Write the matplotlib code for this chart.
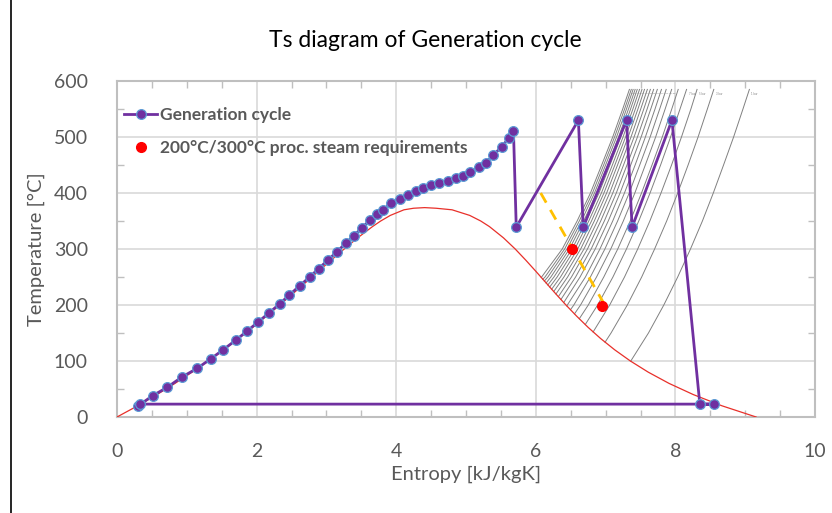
import matplotlib
matplotlib.use("Agg")
import matplotlib.pyplot as plt
from matplotlib.lines import Line2D
from matplotlib.ticker import MultipleLocator

plt.rcParams['font.family'] = ['Lato', 'DejaVu Sans']

# saturation dome (entropy kJ/kgK, temperature C)
domeS = [0.0, 0.296, 0.572, 0.831, 1.075, 1.307, 1.528, 1.739, 1.943, 2.139, 2.331, 2.518,
         2.702, 2.884, 3.068, 3.255, 3.449, 3.660, 3.778, 3.916, 4.111, 4.25, 4.407,
         4.57, 4.80, 5.053, 5.211, 5.336, 5.536, 5.705, 5.857, 6.002, 6.144, 6.286,
         6.432, 6.586, 6.750, 6.930, 7.130, 7.355, 7.612, 7.909, 8.257, 8.667, 9.156]
domeT = [0.01, 20, 40, 60, 80, 100, 120, 140, 160, 180, 200, 220,
         240, 260, 280, 300, 320, 340, 350, 360, 370, 372.8, 373.9,
         372.8, 370, 360, 350, 340, 320, 300, 280, 260, 240, 220,
         200, 180, 160, 140, 120, 100, 80, 60, 40, 20, 0.01]

# generation cycle
cycleS = [0.305, 0.51, 0.72, 0.925, 1.15, 1.345, 1.52, 1.70, 1.86, 2.025, 2.18, 2.33, 2.47,
          2.615, 2.76, 2.89, 3.02, 3.15, 3.275, 3.395, 3.51, 3.62, 3.72, 3.81, 3.93, 4.05,
          4.17, 4.28, 4.39, 4.50, 4.62, 4.74, 4.85, 4.95, 5.06, 5.18, 5.29, 5.39, 5.51,
          5.61, 5.68, 5.72, 6.61, 6.68, 7.30, 7.38, 7.95, 8.35, 8.55, 0.33]
cycleT = [20, 38, 53, 71, 87, 104, 120, 137, 153, 170, 186, 202, 218,
          234, 250, 265, 280, 295, 310, 324, 338, 351, 362, 370, 382, 389,
          397, 404, 409, 414, 418, 422, 426, 431, 437, 446, 454, 468, 482,
          498, 511, 339, 530, 339, 530, 339, 530, 23, 23, 23]

# process steam requirements
steamS = [6.52, 6.95]
steamT = [300, 198]
dashS = [6.07, 6.97]
dashT = [400, 204]

# isobars: pressure (bar) -> (T list, s list)
isobarP = [1, 3, 5, 7, 9, 11, 13, 15, 17, 19, 21, 23, 25, 27, 29, 31, 33, 35, 37, 39]
isobarT = {
    1: [99.6, 150, 200, 250, 300, 350, 400, 450, 500, 550, 585],
    3: [133.5, 150, 200, 250, 300, 350, 400, 450, 500, 550, 585],
    5: [151.8, 200, 250, 300, 350, 400, 450, 500, 550, 585],
    7: [165.0, 200, 250, 300, 350, 400, 450, 500, 550, 585],
    9: [175.4, 200, 250, 300, 350, 400, 450, 500, 550, 585],
    11: [184.1, 200, 250, 300, 350, 400, 450, 500, 550, 585],
    13: [191.6, 200, 250, 300, 350, 400, 450, 500, 550, 585],
    15: [198.3, 200, 250, 300, 350, 400, 450, 500, 550, 585],
    17: [204.3, 250, 300, 350, 400, 450, 500, 550, 585],
    19: [209.8, 250, 300, 350, 400, 450, 500, 550, 585],
    21: [214.9, 250, 300, 350, 400, 450, 500, 550, 585],
    23: [219.6, 250, 300, 350, 400, 450, 500, 550, 585],
    25: [224.0, 250, 300, 350, 400, 450, 500, 550, 585],
    27: [228.1, 250, 300, 350, 400, 450, 500, 550, 585],
    29: [232.0, 250, 300, 350, 400, 450, 500, 550, 585],
    31: [235.7, 250, 300, 350, 400, 450, 500, 550, 585],
    33: [239.2, 250, 300, 350, 400, 450, 500, 550, 585],
    35: [242.6, 250, 300, 350, 400, 450, 500, 550, 585],
    37: [245.8, 250, 300, 350, 400, 450, 500, 550, 585],
    39: [248.9, 300, 350, 400, 450, 500, 550, 585],
}
isobarS = {
    1: [7.359, 7.614, 7.834, 8.033, 8.216, 8.387, 8.543, 8.690, 8.834, 8.968, 9.06],
    3: [6.992, 7.078, 7.311, 7.517, 7.702, 7.875, 8.033, 8.182, 8.325, 8.458, 8.55],
    5: [6.821, 7.059, 7.271, 7.460, 7.634, 7.794, 7.945, 8.087, 8.222, 8.31],
    7: [6.708, 6.886, 7.105, 7.299, 7.475, 7.637, 7.788, 7.931, 8.066, 8.16],
    9: [6.623, 6.752, 6.974, 7.174, 7.352, 7.515, 7.665, 7.812, 7.948, 8.04],
    11: [6.554, 6.641, 6.870, 7.074, 7.254, 7.419, 7.569, 7.717, 7.853, 7.946],
    13: [6.497, 6.545, 6.782, 6.990, 7.172, 7.338, 7.489, 7.638, 7.775, 7.868],
    15: [6.445, 6.452, 6.711, 6.919, 7.102, 7.270, 7.423, 7.570, 7.708, 7.80],
    17: [6.400, 6.634, 6.851, 7.038, 7.207, 7.360, 7.509, 7.647, 7.741],
    19: [6.360, 6.570, 6.793, 6.982, 7.153, 7.306, 7.456, 7.595, 7.688],
    21: [6.323, 6.511, 6.740, 6.930, 7.103, 7.257, 7.408, 7.547, 7.641],
    23: [6.289, 6.456, 6.690, 6.883, 7.058, 7.212, 7.364, 7.503, 7.598],
    25: [6.257, 6.403, 6.643, 6.838, 7.015, 7.171, 7.323, 7.463, 7.557],
    27: [6.227, 6.354, 6.600, 6.798, 6.976, 7.133, 7.286, 7.426, 7.521],
    29: [6.199, 6.306, 6.559, 6.759, 6.940, 7.097, 7.250, 7.391, 7.486],
    31: [6.172, 6.260, 6.520, 6.722, 6.905, 7.062, 7.217, 7.358, 7.453],
    33: [6.147, 6.216, 6.482, 6.687, 6.872, 7.030, 7.186, 7.328, 7.423],
    35: [6.122, 6.173, 6.447, 6.654, 6.841, 7.000, 7.157, 7.299, 7.394],
    37: [6.099, 6.132, 6.413, 6.623, 6.812, 6.972, 7.129, 7.272, 7.368],
    39: [6.077, 6.379, 6.592, 6.783, 6.944, 7.102, 7.245, 7.341],
}
# labels along the top end of the isobars
denseLabel = '39 37 35 33 31 29 27 25 23 21 19 17 15 13 11 9 bar'
singleLabels = [1, 3, 5, 7]

xTicks = [0, 2, 4, 6, 8, 10]
yTicks = [0, 100, 200, 300, 400, 500, 600]

fig = plt.figure(figsize=(8.32, 5.13), dpi=100)
ax = fig.add_axes([117 / 832, 1 - 417 / 513, 698 / 832, 336 / 513])

# background isobars
for p in isobarP:
    ax.plot(isobarS[p], isobarT[p], color='#808080', lw=0.7, zorder=2)
for p in singleLabels:
    ax.text(isobarS[p][-1] + 0.03, isobarT[p][-1] - 8, str(p) + ' bar', fontsize=2.0,
            color='#808080', ha='left', va='center', zorder=2)
ax.text(isobarS[39][-1] + 0.02, isobarT[39][-1] - 8, denseLabel, fontsize=1.4,
        color='#808080', ha='left', va='center', zorder=2)

ax.plot(domeS, domeT, color='#E8302A', lw=0.9, zorder=3)

ax.plot(dashS, dashT, color='#FFC000', lw=2, dashes=(4, 3), zorder=4)

ax.plot(cycleS, cycleT, color='#7030A0', lw=2, marker='o', markersize=7,
        markerfacecolor='#7030A0', markeredgecolor='#5B9BD5', markeredgewidth=0.9,
        zorder=5, label='Generation cycle')
ax.plot(steamS, steamT, linestyle='none', marker='o', markersize=7, color='#FF0000',
        zorder=6, label='200°C/300°C proc. steam requirements')

ax.set_xlim(0, 10)
ax.set_ylim(0, 600)
ax.set_xticks(xTicks)
ax.set_yticks(yTicks)
ax.xaxis.set_minor_locator(MultipleLocator(0.5))
ax.yaxis.set_minor_locator(MultipleLocator(50))
ax.grid(True, which='major', color='#D9D9D9', lw=1.2, zorder=0)
ax.set_axisbelow(True)
ax.tick_params(which='both', direction='in', top=True, right=True, color='#BFBFBF',
               labelcolor='#595959', labelsize=14)
ax.tick_params(axis='y', which='major', pad=21)
ax.tick_params(axis='x', which='major', pad=19)
ax.tick_params(which='major', length=0)
ax.tick_params(which='minor', length=5, width=1)
for sp in ax.spines.values():
    sp.set_color('#BFBFBF')
    sp.set_linewidth(1.5)

ax.set_xlabel('Entropy [kJ/kgK]', fontsize=14.5, color='#595959')
ax.xaxis.set_label_coords(0.5, -0.145)
ax.set_ylabel('Temperature [°C]', fontsize=14.5, color='#595959', labelpad=6)
fig.text(0.511, 0.922, 'Ts diagram of Generation cycle', fontsize=16.5, color='black',
         ha='center', va='center')

leg = ax.legend(loc='upper left', bbox_to_anchor=(-0.012, 0.97), frameon=False,
                prop={'weight': 'bold', 'size': 12.5}, labelspacing=1.0,
                handlelength=1.9, handletextpad=0.15)
for t in leg.get_texts():
    t.set_color('#595959')

fig.add_artist(Line2D([11 / 832, 11 / 832], [0, 1], color='black', lw=1.2))

fig.savefig('out.png', dpi=100)
